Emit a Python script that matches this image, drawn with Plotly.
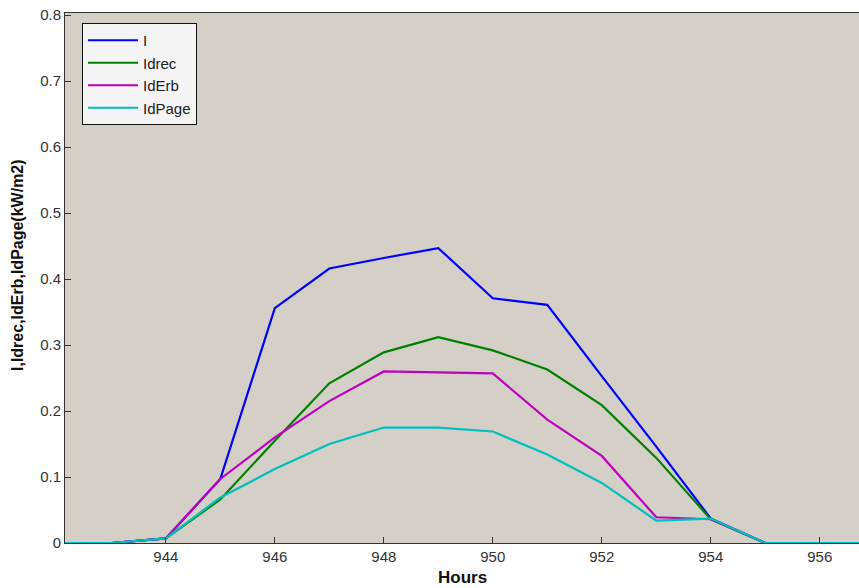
import plotly.graph_objects as go

hours = [942, 943, 944, 945, 946, 947, 948, 949, 950, 951, 952, 953, 954, 955, 956, 957]
I_vals = [0, 0, 0.007, 0.097, 0.356, 0.416, 0.432, 0.447, 0.371, 0.361, 0.253, 0.146, 0.037, 0, 0, 0]
Idrec = [0, 0, 0.007, 0.066, 0.155, 0.242, 0.289, 0.312, 0.292, 0.263, 0.209, 0.129, 0.036, 0, 0, 0]
IdErb = [0, 0, 0.007, 0.097, 0.160, 0.215, 0.260, 0.258, 0.257, 0.187, 0.132, 0.039, 0.036, 0, 0, 0]
IdPage = [0, 0, 0.007, 0.069, 0.112, 0.150, 0.175, 0.175, 0.169, 0.134, 0.091, 0.034, 0.037, 0, 0, 0]

series = [
    ("I", I_vals, "#0000ff"),
    ("Idrec", Idrec, "#008000"),
    ("IdErb", IdErb, "#bf00bf"),
    ("IdPage", IdPage, "#00bfbf"),
]

FONT = "Liberation Sans, Arial, sans-serif"

fig = go.Figure()
for i, (name, vals, col) in enumerate(series):
    fig.add_trace(go.Scatter(x=hours, y=vals, mode="lines", name=name,
                             line=dict(color=col, width=2.2)))

W, H = 859, 588
L, R, T, B = 65, 0, 13, 45
pw, ph = W - L - R, H - T - B

def px_to_paper_x(px):
    return (px - L) / pw

def px_to_paper_y(py):
    return (H - B - py) / ph

fig.update_layout(
    width=W, height=H,
    margin=dict(l=L, r=R, t=T, b=B),
    paper_bgcolor="white",
    plot_bgcolor="#d4d0c8",
    font=dict(family=FONT, size=15, color="#333333"),
    showlegend=True,
    legend=dict(
        x=px_to_paper_x(82), y=px_to_paper_y(23),
        xanchor="left", yanchor="top",
        bgcolor="#f4f4f4", bordercolor="#111111", borderwidth=1,
        font=dict(family=FONT, size=15, color="#222222"),
        itemwidth=50,
        tracegroupgap=0,
    ),
    xaxis=dict(
        range=[942.15, 956.72],
        tickmode="array", tickvals=[944, 946, 948, 950, 952, 954, 956],
        ticks="inside", ticklen=6, tickcolor="#333333", tickwidth=1,
        showline=True, linecolor="#333333", linewidth=1, mirror=True,
        showgrid=False, zeroline=False,
        tickfont=dict(family=FONT, size=15, color="#333333"),
    ),
    yaxis=dict(
        range=[0, 0.8033],
        tickmode="array", tickvals=[0, 0.1, 0.2, 0.3, 0.4, 0.5, 0.6, 0.7, 0.8],
        ticktext=["0", "0.1", "0.2", "0.3", "0.4", "0.5", "0.6", "0.7", "0.8"],
        ticks="inside", ticklen=6, tickcolor="#333333", tickwidth=1,
        showline=True, linecolor="#333333", linewidth=1, mirror=False,
        showgrid=False, zeroline=False,
        tickfont=dict(family=FONT, size=15, color="#333333"),
    ),
    annotations=[
        dict(text="<b>Hours</b>", xref="paper", yref="paper",
             x=0.5, y=px_to_paper_y(577), xanchor="center", yanchor="middle",
             showarrow=False, font=dict(family=FONT, size=17, color="#111111")),
        dict(text="<b>I,Idrec,IdErb,IdPage(kW/m2)</b>", xref="paper", yref="paper",
             x=px_to_paper_x(17), y=px_to_paper_y(265), xanchor="center", yanchor="middle",
             textangle=-90, showarrow=False,
             font=dict(family=FONT, size=16, color="#111111")),
    ],
)

fig.write_html("out.html")
